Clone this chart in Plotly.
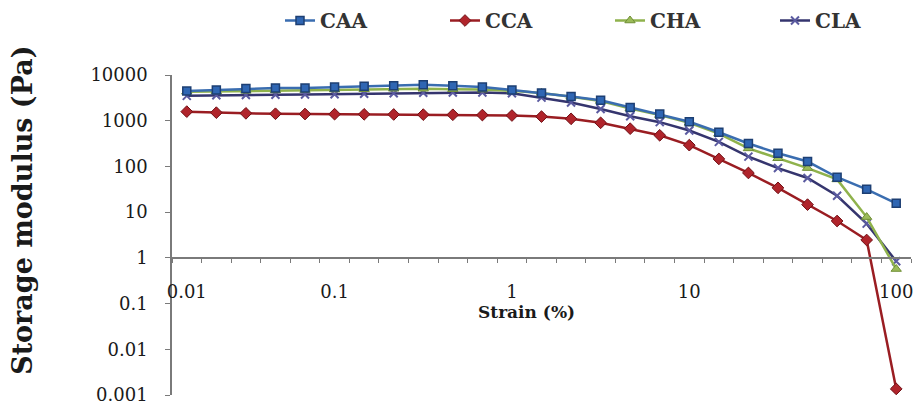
import plotly.graph_objects as go

# Strain categories (%), evenly spaced on the category axis
strain = [0.01, 0.0158, 0.0251, 0.0398, 0.0631, 0.1, 0.147, 0.215, 0.316, 0.464,
          0.681, 1, 1.47, 2.15, 3.16, 4.64, 6.81, 10, 13.9, 19.3, 26.8, 37.3,
          51.8, 72.0, 100]
x_labels = {"0.01": 0.01, "0.1": 0.1, "1": 1, "10": 10, "100": 100}

CAA = [4470, 4700, 5050, 5200, 5200, 5450, 5650, 5850, 6100, 5850, 5450, 4700,
       4050, 3400, 2800, 1950, 1400, 950, 560, 317, 194, 128, 58, 31.5, 15.6]
CCA = [1580, 1500, 1450, 1420, 1400, 1390, 1380, 1370, 1360, 1350, 1330, 1300,
       1230, 1100, 900, 670, 480, 292, 146, 72, 34, 14.6, 6.4, 2.46, 0.00136]
CHA = [4300, 4400, 4500, 4600, 4700, 4800, 4900, 5000, 5000, 4900, 4800, 4500,
       4050, 3350, 2700, 1850, 1330, 900, 520, 248, 151, 92, 52, 7.8, 0.57]
CLA = [3500, 3600, 3650, 3700, 3750, 3800, 3900, 4000, 4100, 4150, 4150, 4000,
       3200, 2500, 1800, 1250, 930, 612, 345, 164, 92, 56, 22.8, 5.6, 0.84]

y_tickvals = [10000, 1000, 100, 10, 1, 0.1, 0.01, 0.001]
y_ticktext = ["10000", "1000", "100", "10", "1", "0.1", "0.01", "0.001"]

idx = list(range(len(strain)))

SERIF = "DejaVu Serif"

fig = go.Figure()

series = [
    ("CLA", CLA, "#35356e", dict(symbol="x-thin", size=8, color="#35356e",
                                  line=dict(width=2, color="#5a5aa0")), 4),
    ("CHA", CHA, "#8fb24c", dict(symbol="triangle-up", size=9, color="#9bbb59",
                                  line=dict(width=1, color="#6f8f35")), 3),
    ("CCA", CCA, "#9a1d22", dict(symbol="diamond", size=9, color="#b0242b",
                                  line=dict(width=1, color="#701015")), 2),
    ("CAA", CAA, "#3a6db0", dict(symbol="square", size=8, color="#2f66b3",
                                  line=dict(width=1.5, color="#1d3f73")), 1),
]
for name, vals, col, mk, rank in series:
    fig.add_trace(go.Scatter(
        x=idx, y=vals, mode="lines+markers", name=name,
        line=dict(color=col, width=2.5), marker=mk, legendrank=rank,
        cliponaxis=False,
    ))

tickvals_x = [strain.index(v) for v in x_labels.values()]

fig.update_layout(
    width=920, height=412,
    margin=dict(l=172, r=7, t=75, b=11),
    paper_bgcolor="white", plot_bgcolor="white",
    font=dict(family=SERIF, color="#1a1a1a"),
    showlegend=True,
    legend=dict(
        orientation="h", xref="container", yref="container",
        x=280 / 920, y=1 - 1 / 412, xanchor="left", yanchor="top",
        font=dict(family=SERIF, size=20, color="#333", weight="bold"),
        entrywidth=120, traceorder="normal",
        bgcolor="rgba(0,0,0,0)",
    ),
    xaxis=dict(
        range=[-0.5, len(strain) - 0.5],
        anchor="free", position=3 / 7,
        showline=True, linecolor="#7a7a7a", linewidth=1.5,
        showgrid=False, zeroline=False,
        tickvals=tickvals_x, ticktext=list(x_labels.keys()),
        ticks="outside", ticklen=18, tickcolor="rgba(0,0,0,0)",
        tickfont=dict(family=SERIF, size=18, color="#1a1a1a"),
        minor=dict(tick0=-0.5, dtick=1, ticks="outside", ticklen=4,
                   tickcolor="#7a7a7a", tickwidth=1.2, showgrid=False),
    ),
    yaxis=dict(
        type="log", range=[-3, 4],
        showline=True, linecolor="#7a7a7a", linewidth=1.5,
        showgrid=False, zeroline=False,
        tickvals=y_tickvals, ticktext=y_ticktext,
        ticks="outside", ticklen=5, tickcolor="#7a7a7a", tickwidth=1.2,
        ticklabelstandoff=14,
        tickfont=dict(family=SERIF, size=18, color="#1a1a1a"),
    ),
)

fig.add_annotation(
    text="<b>Strain (%)</b>", xref="paper", yref="paper",
    x=(527 - 172) / 741, y=(401 - 316) / 326,
    showarrow=False, xanchor="center", yanchor="middle",
    font=dict(family=SERIF, size=17, color="#1a1a1a"),
)
fig.add_annotation(
    text="<b>Storage modulus (Pa)</b>", xref="paper", yref="paper",
    x=(22 - 172) / 741, y=(401 - 213) / 326, textangle=-90,
    showarrow=False, xanchor="center", yanchor="middle",
    font=dict(family=SERIF, size=27, color="#1a1a1a"),
)

fig.write_html("out.html")
